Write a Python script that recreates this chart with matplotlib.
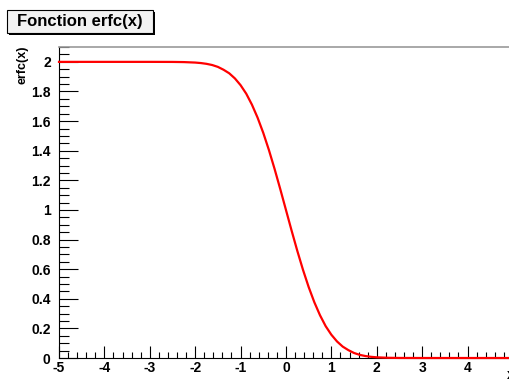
import matplotlib
matplotlib.use("Agg")
import matplotlib.pyplot as plt
from matplotlib.ticker import MultipleLocator
from matplotlib.patches import Rectangle

plt.rcParams['font.family'] = ['Liberation Sans', 'DejaVu Sans']

# values
x = [-5.0, -4.0, -3.0, -2.5, -2.25, -2.0, -1.875, -1.75, -1.625, -1.5, -1.375, -1.25,
     -1.125, -1.0, -0.875, -0.75, -0.625, -0.5, -0.375, -0.25, -0.125, 0.0, 0.125,
     0.25, 0.375, 0.5, 0.625, 0.75, 0.875, 1.0, 1.125, 1.25, 1.375, 1.5, 1.625,
     1.75, 1.875, 2.0, 2.25, 2.5, 3.0, 4.0, 5.0]
y = [2.0, 2.0, 2.0, 1.9996, 1.9985, 1.9953, 1.9920, 1.9867, 1.9787, 1.9661, 1.9468, 1.9229,
     1.8882, 1.8427, 1.7850, 1.7112, 1.6232, 1.5205, 1.4041, 1.2763, 1.1403, 1.0, 0.8597,
     0.7237, 0.5959, 0.4795, 0.3768, 0.2888, 0.2150, 0.1573, 0.1118, 0.0771, 0.0532,
     0.0339, 0.0213, 0.0133, 0.0080, 0.0047, 0.0015, 0.0004, 0.0, 0.0, 0.0]

fig = plt.figure(figsize=(5.1, 3.82), dpi=100)
ax = fig.add_axes([0.1157, 0.0628, 0.89, 0.814])
ax.plot(x, y, color='red', lw=1.6, zorder=3, clip_on=False)
ax.set_xlim(-5, 5)
ax.set_ylim(0, 2.1)

ax.xaxis.set_major_locator(MultipleLocator(1))
ax.xaxis.set_minor_locator(MultipleLocator(0.2))
ax.yaxis.set_major_locator(MultipleLocator(0.2))
ax.yaxis.set_minor_locator(MultipleLocator(0.05))
ax.tick_params(direction='in', which='major', length=9, width=0.8)
ax.tick_params(direction='in', which='minor', length=4.5, width=0.8)
ax.tick_params(axis='y', which='major', length=14)
ax.tick_params(axis='y', which='minor', length=7)
ax.tick_params(labelsize=10)
ax.tick_params(axis='x', pad=2)
ax.tick_params(axis='y', pad=6)
ax.set_xticks(range(-5, 5))
ax.set_xticklabels([str(v) for v in range(-5, 5)], fontweight='bold')
yt = [0, 0.2, 0.4, 0.6, 0.8, 1, 1.2, 1.4, 1.6, 1.8, 2]
ax.set_yticks(yt)
ax.set_yticklabels(['%g' % v for v in yt], fontweight='bold')

ax.spines['right'].set_visible(False)
ax.spines['top'].set_color('#999999')
ax.spines['top'].set_linewidth(1.2)

fig.text(23 / 510, 1 - 46 / 382, 'erfc(x)', rotation=90, fontsize=9, fontweight='bold',
         ha='center', va='top')
fig.text(0.993, 0.0, 'x', fontsize=10, fontweight='bold', ha='left', va='bottom')

# title box
fig.patches.append(Rectangle((9 / 510, 1 - 35 / 382), 146 / 510, 23 / 382,
                             transform=fig.transFigure, facecolor='black',
                             edgecolor='none'))
fig.patches.append(Rectangle((7 / 510, 1 - 33 / 382), 146 / 510, 23 / 382,
                             transform=fig.transFigure, facecolor='#f2f2f2',
                             edgecolor='black', lw=0.8))
fig.text(80 / 510, 1 - 21.5 / 382, 'Fonction erfc(x)', fontsize=12, fontweight='bold',
         ha='center', va='center')

fig.savefig('out.png', dpi=100)
